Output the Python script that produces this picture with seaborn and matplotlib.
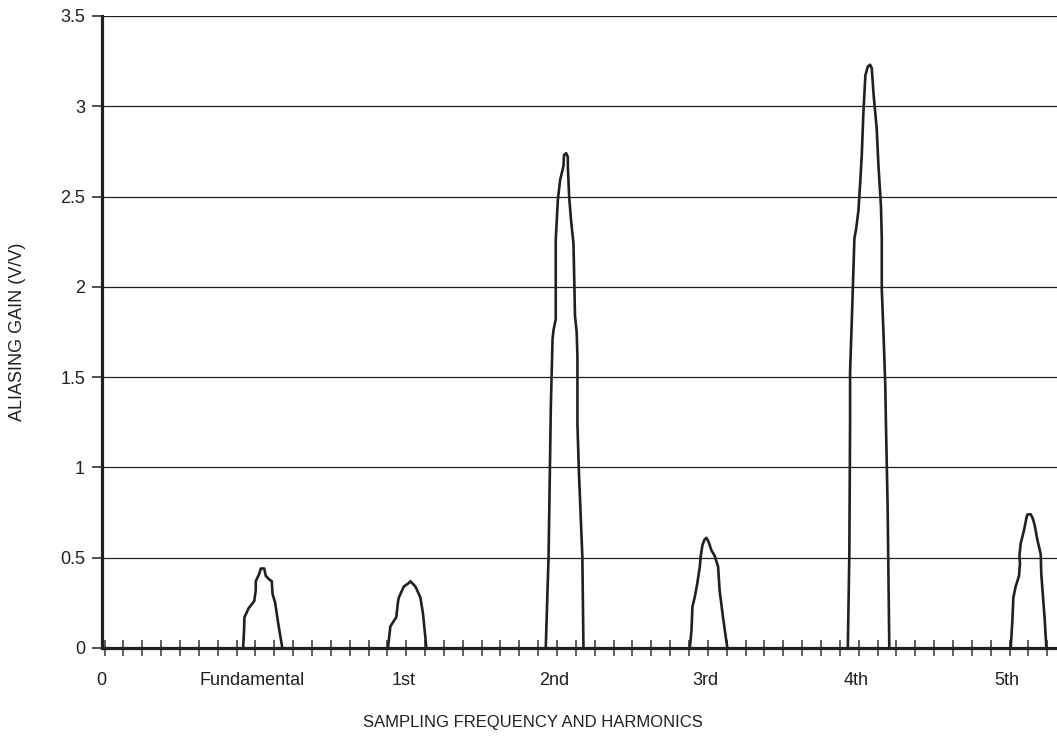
import matplotlib
matplotlib.use("Agg")
import matplotlib.pyplot as plt
from matplotlib import font_manager
import seaborn as sns
import pandas as pd

# ---- data (x in tick-interval units, y in V/V) ----
fund_x = [7.35, 7.40, 7.42, 7.64, 7.94, 8.02, 8.02, 8.20, 8.29, 8.47, 8.55, 8.73, 8.87, 8.91, 9.05, 9.22, 9.43]
fund_y = [0.0, 0.10, 0.17, 0.22, 0.26, 0.32, 0.37, 0.41, 0.44, 0.44, 0.40, 0.38, 0.37, 0.30, 0.25, 0.13, 0.0]

first_x = [15.03, 15.16, 15.47, 15.57, 15.61, 15.87, 16.14, 16.22, 16.49, 16.75, 16.89, 17.07]
first_y = [0.0, 0.12, 0.17, 0.26, 0.28, 0.34, 0.36, 0.37, 0.34, 0.28, 0.19, 0.0]

second_x = [23.40, 23.55, 23.63, 23.67, 23.76, 23.81, 23.93, 23.93, 23.93, 24.04, 24.16, 24.34, 24.37,
            24.48, 24.57, 24.57, 24.64, 24.74, 24.87, 24.92, 24.95, 25.04, 25.08, 25.08, 25.16, 25.34, 25.40]
second_y = [0.0, 0.51, 1.06, 1.34, 1.71, 1.76, 1.82, 2.00, 2.26, 2.48, 2.59, 2.67, 2.73,
            2.74, 2.72, 2.67, 2.50, 2.37, 2.24, 2.00, 1.84, 1.75, 1.61, 1.24, 0.97, 0.51, 0.0]

third_x = [31.04, 31.13, 31.18, 31.30, 31.44, 31.57, 31.62, 31.71, 31.82, 31.92, 32.03, 32.19, 32.36,
           32.54, 32.62, 32.80, 33.03]
third_y = [0.0, 0.10, 0.23, 0.28, 0.36, 0.45, 0.51, 0.57, 0.60, 0.61, 0.59, 0.54, 0.51,
           0.45, 0.32, 0.17, 0.0]

fourth_x = [39.42, 39.50, 39.54, 39.54, 39.63, 39.77, 39.86, 39.98, 40.09, 40.16, 40.24, 40.35, 40.48,
            40.60, 40.69, 40.79, 40.95, 41.04, 41.18, 41.22, 41.22, 41.32, 41.41, 41.44, 41.53, 41.62]
fourth_y = [0.0, 0.52, 1.25, 1.53, 1.81, 2.27, 2.32, 2.42, 2.60, 2.73, 2.95, 3.17, 3.22,
            3.23, 3.21, 3.06, 2.88, 2.68, 2.44, 2.27, 1.99, 1.72, 1.44, 1.25, 0.79, 0.0]

fifth_x = [48.06, 48.15, 48.20, 48.32, 48.50, 48.55, 48.52, 48.59, 48.76, 48.91, 48.96, 49.12, 49.22,
           49.33, 49.47, 49.65, 49.68, 49.86, 49.95]
fifth_y = [0.0, 0.16, 0.28, 0.34, 0.40, 0.47, 0.51, 0.58, 0.65, 0.73, 0.74, 0.74, 0.72,
           0.68, 0.60, 0.52, 0.41, 0.16, 0.0]

category_labels = ["0", "Fundamental", "1st", "2nd", "3rd", "4th", "5th"]
category_pos = [0, 8, 16, 24, 32, 40, 48]
y_ticks = [0, 0.5, 1, 1.5, 2, 2.5, 3, 3.5]
y_tick_labels = ["0", "0.5", "1", "1.5", "2", "2.5", "3", "3.5"]
x_title = "SAMPLING FREQUENCY AND HARMONICS"
y_title = "ALIASING GAIN (V/V)"

peaks = {"fund": (fund_x, fund_y), "first": (first_x, first_y), "second": (second_x, second_y),
         "third": (third_x, third_y), "fourth": (fourth_x, fourth_y), "fifth": (fifth_x, fifth_y)}
frames = []
for name, (xs, ys) in peaks.items():
    frames.append(pd.DataFrame({"x": xs, "y": ys, "peak": name}))
df = pd.concat(frames, ignore_index=True)

# ---- style ----
sns.set_theme(style="white")
names = {f.name for f in font_manager.fontManager.ttflist}
fam = "Liberation Sans Narrow" if "Liberation Sans Narrow" in names else "Liberation Sans"
plt.rcParams["font.family"] = [fam, "DejaVu Sans"]

ink = "#231f20"
W, H = 1057, 743
fig = plt.figure(figsize=(W / 100, H / 100), dpi=100)
ax = fig.add_axes([101.7 / W, (H - 648) / H, (W - 101.7) / W + 0.01, (648 - 16) / H])

sns.lineplot(data=df, x="x", y="y", units="peak", estimator=None, sort=False,
             color=ink, linewidth=1.9, ax=ax, legend=False)
for line in ax.get_lines():
    line.set_solid_joinstyle("round")

ax.set_xlim(0, (W + 10 - 101.7) / 18.9)
ax.set_ylim(0, 3.5)

for yv in y_ticks[1:]:
    ax.axhline(yv, color=ink, linewidth=0.9, zorder=0)

ax.set_yticks(y_ticks)
ax.set_yticklabels(y_tick_labels)
ax.set_xticks(range(0, 51))
ax.set_xticklabels([""] * 51)
ax.set_xticks([p - 0.15 for p in category_pos], minor=True)
ax.set_xticklabels(category_labels, minor=True)

ax.tick_params(axis="x", which="major", bottom=True, direction="inout", length=11, width=1.1,
               color="#333333")
ax.tick_params(axis="x", which="minor", bottom=True, length=0, pad=17, labelsize=13, labelcolor=ink)
ax.tick_params(axis="y", which="major", left=True, direction="out", length=7, width=1.1, color=ink,
               pad=5, labelsize=13, labelcolor=ink)

for s in ["top", "right"]:
    ax.spines[s].set_visible(False)
for s in ["left", "bottom"]:
    ax.spines[s].set_color(ink)
    ax.spines[s].set_linewidth(2.3)
    ax.spines[s].set_zorder(5)

ax.set_xlabel("")
ax.set_ylabel("")
fig.text(533 / W, 1 - 722 / H, x_title, ha="center", va="center", fontsize=12, color=ink)
fig.text(18 / W, 1 - 332 / H, y_title, ha="center", va="center", rotation=90, fontsize=13, color=ink)

fig.savefig("out.png", dpi=100)
